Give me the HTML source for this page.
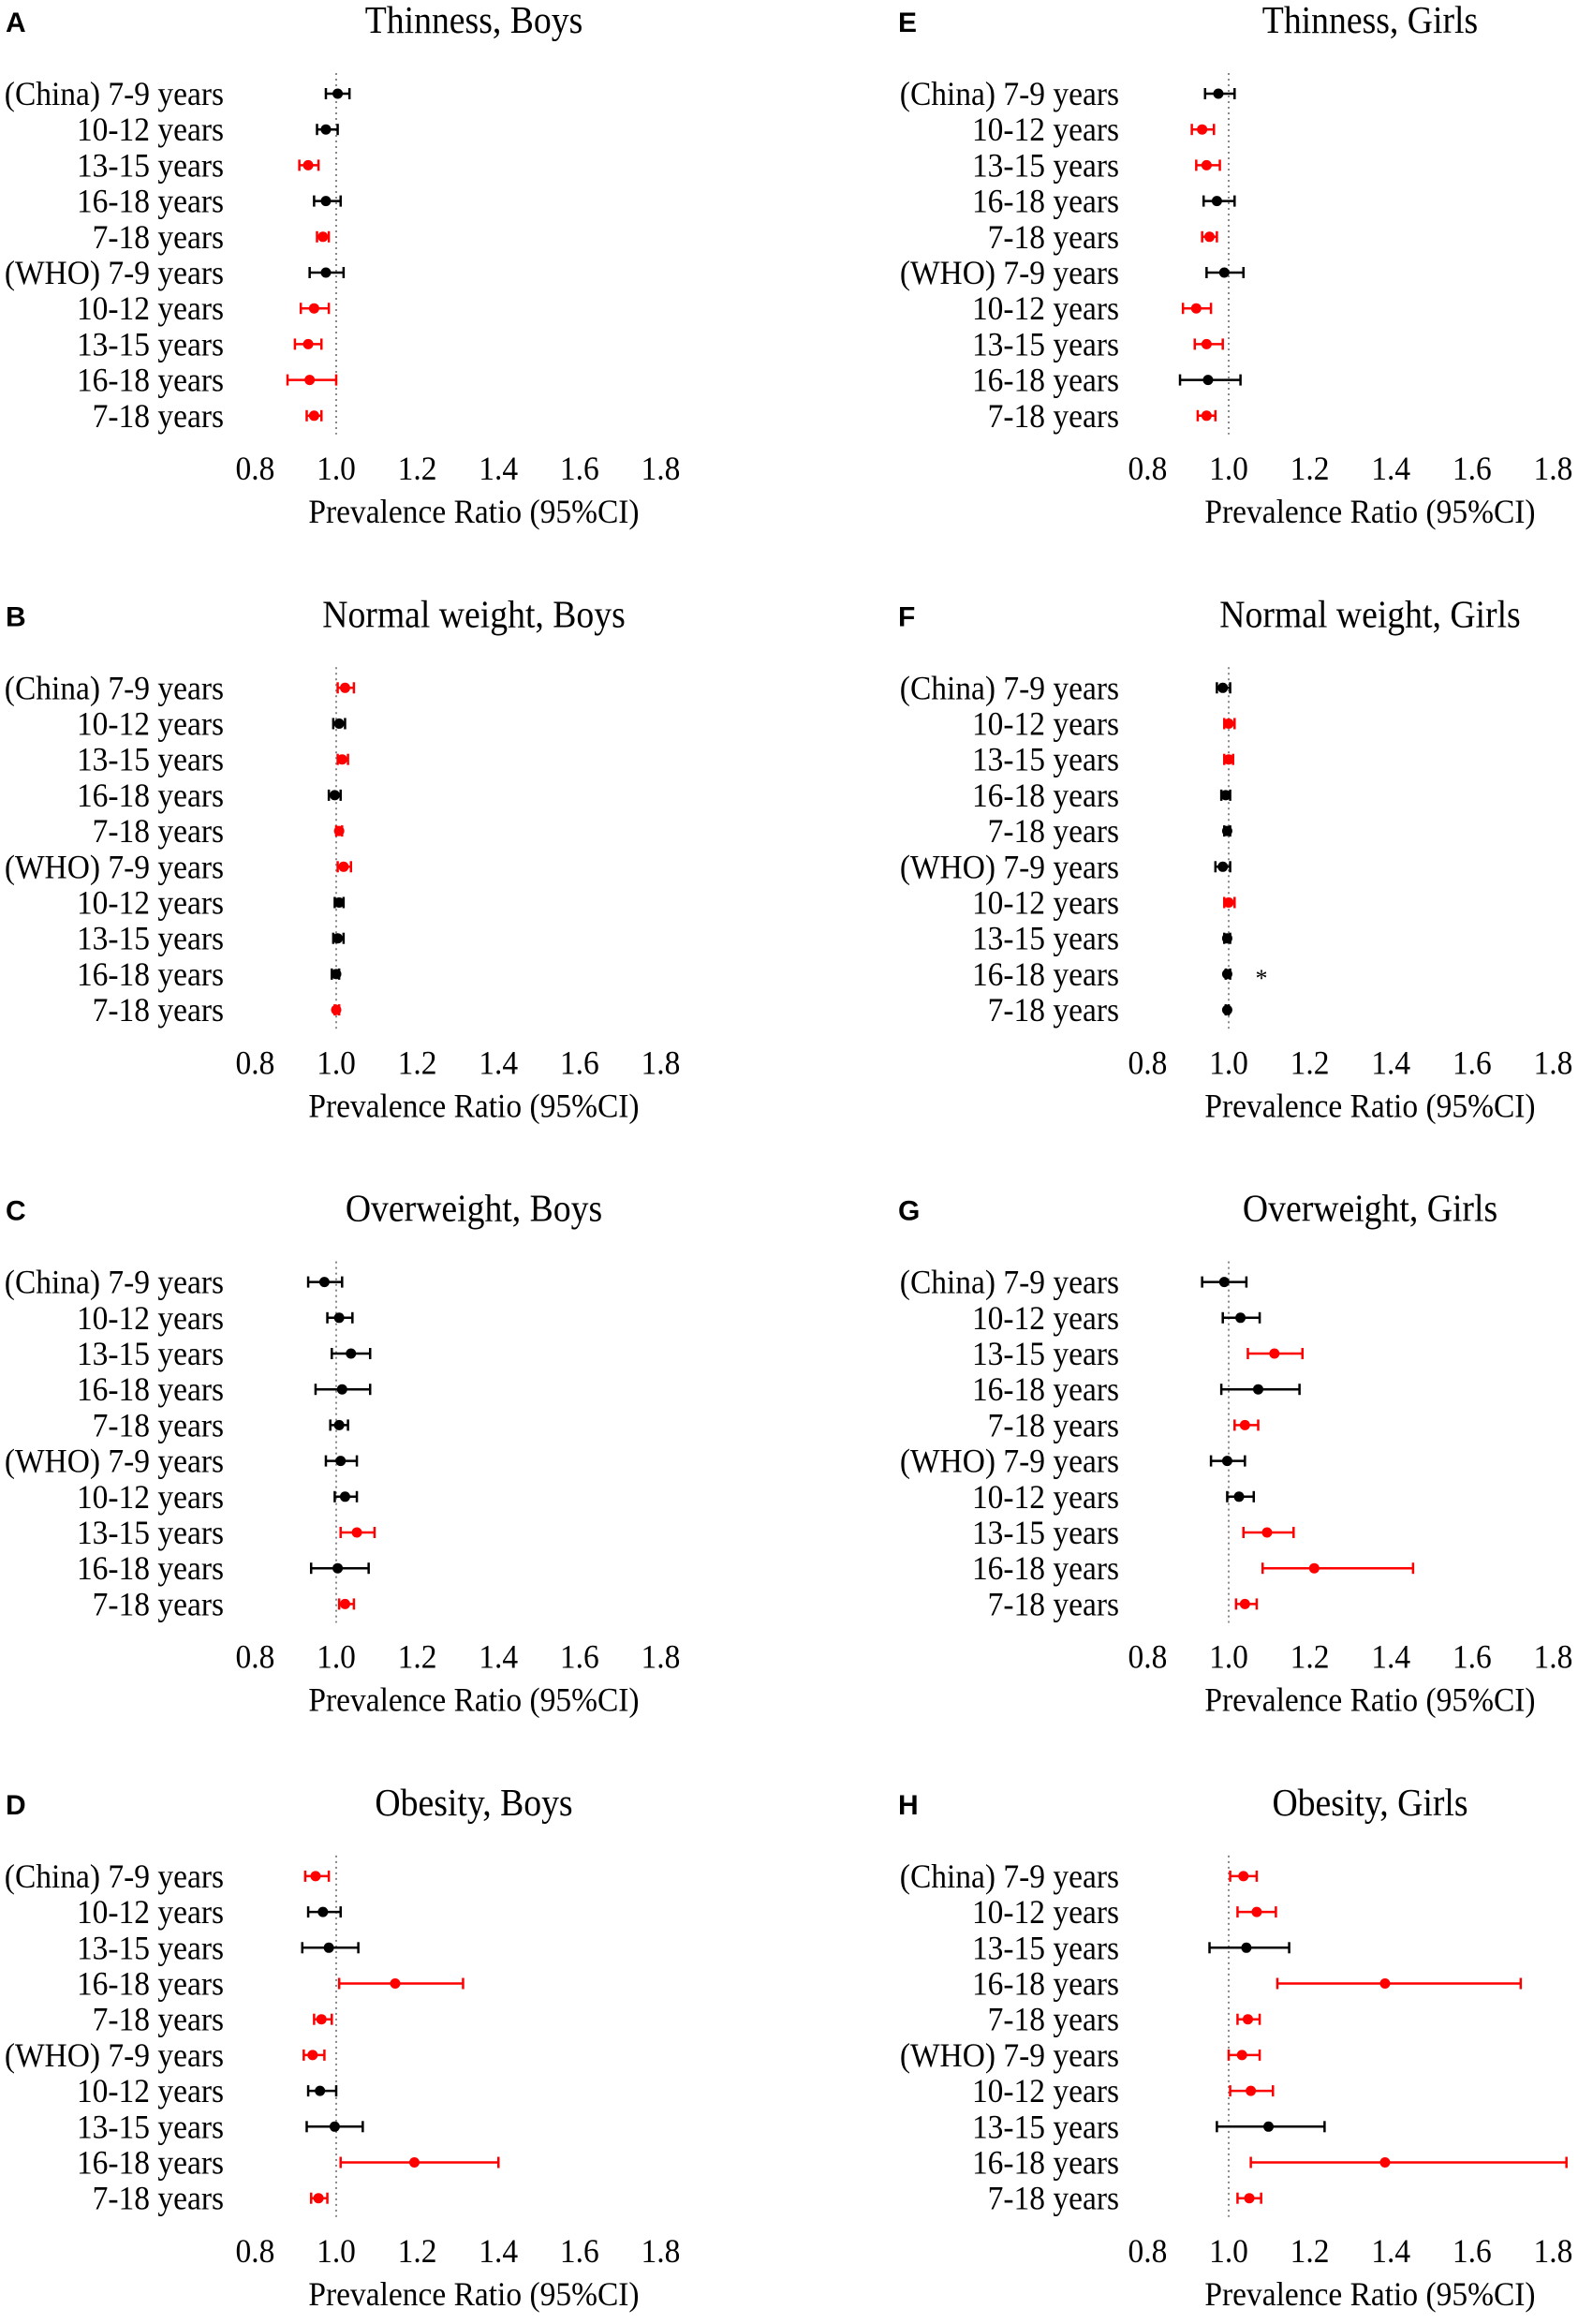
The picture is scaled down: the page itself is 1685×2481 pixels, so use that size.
<!DOCTYPE html>
<html><head><meta charset="utf-8"><style>
html,body{margin:0;padding:0;background:#fff;}
svg{display:block}
text{font-family:"Liberation Serif",serif;fill:#000}
.lt{font-family:"Liberation Sans",sans-serif;font-weight:bold}
</style></head><body>
<svg id="s" width="1685" height="2481" xmlns="http://www.w3.org/2000/svg"></svg>
<script>
var labels=["(China) 7-9 years","10-12 years","13-15 years","16-18 years","7-18 years","(WHO) 7-9 years","10-12 years","13-15 years","16-18 years","7-18 years"];
var P=[
{L:"A",t:"Thinness, Boys",c:0,r:0,o:226,d:[[227,219,235,0],[219,213,227,0],[207,201,214,1],[219,211,229,0],[217,213,221,1],[219,208,231,0],[211,202,221,1],[207,198,216,1],[208,193,226,1],[211,206,216,1]]},
{L:"B",t:"Normal weight, Boys",c:0,r:1,o:226,d:[[232,227,238,1],[228,224,232,0],[230,227,234,1],[225,221,229,0],[228,226,230,1],[231,227,236,1],[228,225,231,0],[227,224,231,0],[226,223,228,0],[226,225,228,1]]},
{L:"C",t:"Overweight, Boys",c:0,r:2,o:226,d:[[218,207,230,0],[228,220,237,0],[236,223,249,0],[230,212,249,0],[228,222,234,0],[229,219,240,0],[232,225,240,0],[240,229,252,1],[227,209,248,0],[232,228,238,1]]},
{L:"D",t:"Obesity, Boys",c:0,r:3,o:226,d:[[212,205,221,1],[217,207,229,0],[221,203,241,0],[266,228,312,1],[216,211,223,1],[210,204,218,1],[215,207,226,0],[225,206,244,0],[279,229,336,1],[214,209,220,1]]},
{L:"E",t:"Thinness, Girls",c:1,r:0,o:830,d:[[823,814,834,0],[812,805,820,1],[815,808,824,1],[822,813,834,0],[817,812,822,1],[827,815,840,0],[808,799,818,1],[815,807,826,1],[816,797,838,0],[815,809,821,1]]},
{L:"F",t:"Normal weight, Girls",c:1,r:1,o:830,d:[[826,822,831,0],[830,827,834,1],[830,827,833,1],[828,825,831,0],[829,827,831,0],[826,821,831,0],[830,827,834,1],[829,827,831,0],[829,828,831,0],[829,828,830,0]]},
{L:"G",t:"Overweight, Girls",c:1,r:2,o:830,d:[[827,812,842,0],[838,826,851,0],[861,843,880,1],[850,825,878,0],[841,834,850,1],[829,818,841,0],[837,829,847,0],[856,840,874,1],[888,853,955,1],[841,835,849,1]]},
{L:"H",t:"Obesity, Girls",c:1,r:3,o:830,d:[[840,831,849,1],[849,836,862,1],[842,817,871,0],[936,863,1028,1],[843,836,851,1],[839,830,851,1],[845,831,860,1],[857,822,895,0],[936,845,1059,1],[844,836,852,1]]}
];
function T(x,y,fs,anc,s,str){return '<text transform="translate('+x+','+y+') scale('+s+',1)" font-size="'+fs+'" text-anchor="'+anc+'">'+str+'</text>';}
var h="";
P.forEach(function(p){
 var dx=p.c*953, tdx=p.c*957, top=23+p.r*634.3, one=359+dx, k=433;
 var X=function(v){return one+(v-p.o)*1.575;};
 h+='<text class="lt" x="'+(6+dx)+'" y="'+(top+11)+'" font-size="30">'+p.L+'</text>';
 h+=T(506+tdx,top+12,41,"middle",0.92,p.t);
 var y0=top+77, sp=38.2;
 h+='<line x1="'+one+'" y1="'+(y0-22)+'" x2="'+one+'" y2="'+(y0+9*sp+20)+'" stroke="#888" stroke-width="2" stroke-dasharray="2,4"/>';
 for(var i=0;i<10;i++){
  var y=y0+i*sp, d=p.d[i], col=d[3]?"#f00":"#000";
  h+=T(239+p.c*956,y+12,36,"end",0.93,labels[i]);
  var a=X(d[1]),b=X(d[2]);
  h+='<line x1="'+a+'" y1="'+y+'" x2="'+b+'" y2="'+y+'" stroke="'+col+'" stroke-width="2.5"/>';
  h+='<line x1="'+a+'" y1="'+(y-6)+'" x2="'+a+'" y2="'+(y+6)+'" stroke="'+col+'" stroke-width="2.5"/>';
  h+='<line x1="'+b+'" y1="'+(y-6)+'" x2="'+b+'" y2="'+(y+6)+'" stroke="'+col+'" stroke-width="2.5"/>';
  h+='<circle cx="'+X(d[0])+'" cy="'+y+'" r="5.5" fill="'+col+'"/>';
 }
 if(p.L=="F") h+='<text x="'+(1347)+'" y="'+(y0+8*sp+13)+'" font-size="26" text-anchor="middle">*</text>';
 var tk=["0.8","1.0","1.2","1.4","1.6","1.8"];
 for(var j=0;j<6;j++) h+=T(one+(j-1)*0.2*k,top+489,36,"middle",0.93,tk[j]);
 h+=T(506+tdx,top+535,36,"middle",0.93,"Prevalence Ratio (95%CI)");
});
document.getElementById("s").innerHTML=h;
</script>
</body></html>
